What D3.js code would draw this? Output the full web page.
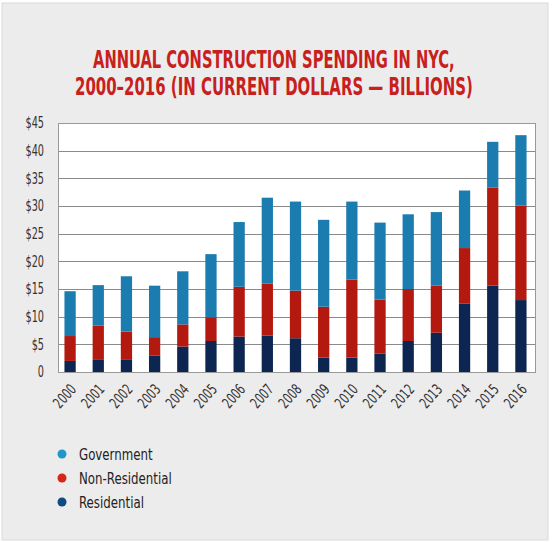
<!DOCTYPE html>
<html><head><meta charset="utf-8">
<script src="https://cdn.jsdelivr.net/npm/d3@7"></script>
<style>
html,body{margin:0;padding:0;background:#fff;}
text{font-family:"DejaVu Sans Condensed","Roboto",sans-serif;}
</style></head>
<body>
<svg id="c" width="552" height="542"></svg>
<script>
const years = ["2000","2001","2002","2003","2004","2005","2006","2007","2008","2009","2010","2011","2012","2013","2014","2015","2016"];
const residential =    [2.0,2.3,2.3,3.0,4.6,5.6,6.4,6.6,6.1,2.6,2.6,3.3,5.6,7.1,12.4,15.6,13.0];
const nonResidential = [4.5,6.1,5.0,3.3,4.0,4.3,9.0,9.4,8.6,9.2,14.1,9.8,9.4,8.5,10.0,17.7,17.1];
const government =     [8.1,7.3,10.0,9.3,9.6,11.4,11.7,15.5,16.1,15.7,14.1,13.9,13.5,13.3,10.4,8.3,12.7];
const yTicks = [0,5,10,15,20,25,30,35,40,45];
const seriesNames = ["Residential","Non-Residential","Government"];
const barColors = {"Residential":"#0d2551","Non-Residential":"#b3190f","Government":"#1b7cb0"};
const legendColors = {"Residential":"#0f4a80","Non-Residential":"#d8251a","Government":"#1f98c9"};
const legendOrder = ["Government","Non-Residential","Residential"];

const svg = d3.select("#c");
svg.append("rect").attr("x",2).attr("y",3).attr("width",546).attr("height",537)
  .attr("fill","#ececec").attr("stroke","#dadada");

// title, squeezed horizontally to the reference's condensed face
const titleLines = [
  {t:"ANNUAL CONSTRUCTION SPENDING IN NYC,", x:93, y:68, w:362},
  {t:"2000–2016 (IN CURRENT DOLLARS — BILLIONS)", x:75, y:95, w:398}
];
titleLines.forEach(l=>{
  const tx = svg.append("text").attr("fill","#c8201c").attr("font-weight","bold")
    .attr("font-size",25).attr("x",0).attr("y",0).text(l.t);
  const nat = tx.node().getComputedTextLength();
  tx.attr("transform",`translate(${l.x},${l.y}) scale(${l.w/nat},1)`);
});

const x0 = 58, x1 = 535, yTop = 123, yBot = 372;
const x = d3.scaleBand().domain(years).range([x0-2, x1]).paddingInner(0.6).paddingOuter(0.3);
const y = d3.scaleLinear().domain([0,45]).range([yBot, yTop]);

svg.append("rect").attr("x",x0).attr("y",yTop).attr("width",x1-x0).attr("height",yBot-yTop)
  .attr("fill","#fff");

// gridlines
svg.append("g").selectAll("line").data(yTicks.filter(d=>d>0)).join("line")
  .attr("x1",x0).attr("x2",x1).attr("y1",d=>Math.round(y(d))+0.5).attr("y2",d=>Math.round(y(d))+0.5)
  .attr("stroke","#8a8a8a").attr("stroke-width",1);

// y axis labels
const yAxis = d3.axisLeft(y).tickValues(yTicks).tickSize(0).tickPadding(0)
  .tickFormat(d=> d===0 ? "0" : "$"+d);
const ya = svg.append("g").attr("transform",`translate(${x0},0)`).call(yAxis);
ya.select(".domain").remove();
ya.selectAll("text").attr("font-size",15).attr("fill","#333").attr("x",0)
  .attr("transform","translate(-14,0) scale(0.72,1)")
  .attr("font-family",'"DejaVu Sans Condensed",sans-serif');

// bars
const table = years.map((yr,i)=>({year:yr,"Residential":residential[i],"Non-Residential":nonResidential[i],"Government":government[i]}));
const stacked = d3.stack().keys(seriesNames)(table);
svg.append("g").selectAll("g").data(stacked).join("g")
  .attr("fill",d=>barColors[d.key])
  .selectAll("rect").data(d=>d).join("rect")
  .attr("x",d=>x(d.data.year)).attr("width",x.bandwidth())
  .attr("y",d=>y(d[1])).attr("height",d=>y(d[0])-y(d[1]));

// plot frame
svg.append("rect").attr("x",x0+0.5).attr("y",yTop+0.5).attr("width",x1-x0).attr("height",yBot-yTop)
  .attr("fill","none").attr("stroke","#999");

// x axis labels
const xAxis = d3.axisBottom(x).tickSize(0).tickPadding(0);
const xa = svg.append("g").attr("transform",`translate(0,${yBot})`).call(xAxis);
xa.select(".domain").remove();
xa.selectAll("text").attr("font-size",15).attr("fill","#333")
  .attr("text-anchor","end").attr("dy",0).attr("y",0)
  .attr("transform","translate(7,18) rotate(-48) scale(0.75,1)")
  .attr("font-family",'"DejaVu Sans Condensed",sans-serif');

// legend
const lg = svg.append("g").selectAll("g").data(legendOrder).join("g")
  .attr("transform",(d,i)=>`translate(62,${454+i*24})`);
lg.append("circle").attr("r",4.5).attr("fill",d=>legendColors[d]);
lg.append("text").attr("x",0).attr("y",0).attr("transform","translate(17,6) scale(0.82,1)")
  .attr("font-size",16).attr("fill","#222").text(d=>d);
</script>
</body></html>
